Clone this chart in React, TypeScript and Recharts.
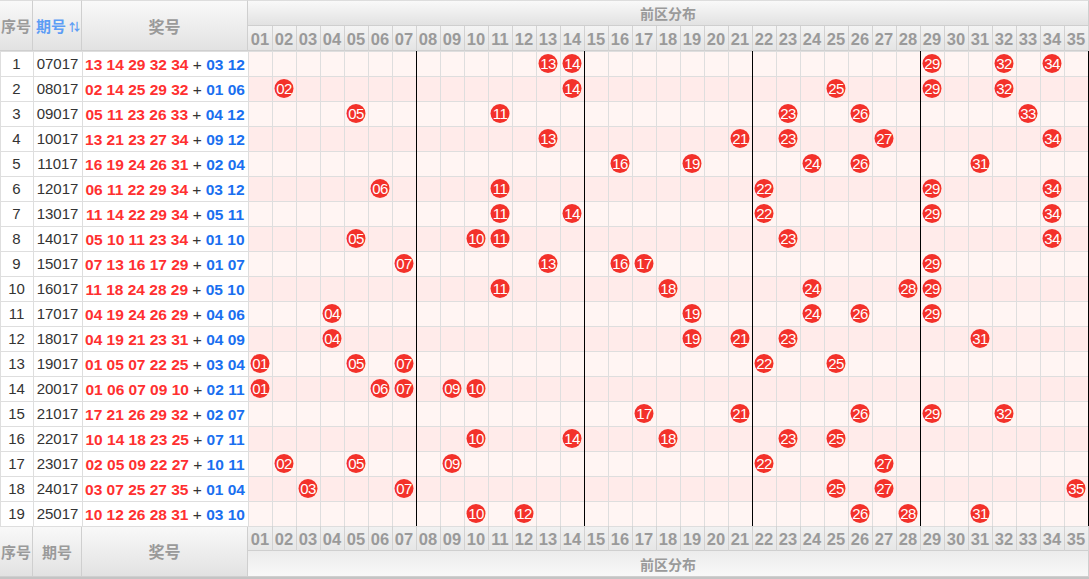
import { ScatterChart, Scatter, XAxis, YAxis, ReferenceArea, ReferenceLine } from 'recharts'

const rowNos = [1, 2, 3, 4, 5, 6, 7, 8, 9, 10, 11, 12, 13, 14, 15, 16, 17, 18, 19]
const periods = ['07017', '08017', '09017', '10017', '11017', '12017', '13017', '14017', '15017', '16017',
  '17017', '18017', '19017', '20017', '21017', '22017', '23017', '24017', '25017']
const frontNums = [
  [13, 14, 29, 32, 34], [2, 14, 25, 29, 32], [5, 11, 23, 26, 33], [13, 21, 23, 27, 34], [16, 19, 24, 26, 31],
  [6, 11, 22, 29, 34], [11, 14, 22, 29, 34], [5, 10, 11, 23, 34], [7, 13, 16, 17, 29], [11, 18, 24, 28, 29],
  [4, 19, 24, 26, 29], [4, 19, 21, 23, 31], [1, 5, 7, 22, 25], [1, 6, 7, 9, 10], [17, 21, 26, 29, 32],
  [10, 14, 18, 23, 25], [2, 5, 9, 22, 27], [3, 7, 25, 27, 35], [10, 12, 26, 28, 31],
]
const backNums = [
  [3, 12], [1, 6], [4, 12], [9, 12], [2, 4], [3, 12], [5, 11], [1, 10], [1, 7], [5, 10],
  [4, 6], [4, 9], [3, 4], [2, 11], [2, 7], [7, 11], [10, 11], [1, 4], [3, 10],
]
const columns = Array.from({ length: 35 }, (_, i) => i + 1)
const sectionEnds = [7, 14, 21, 28, 35]

const pad = (n: number) => String(n).padStart(2, '0')
const points = frontNums.flatMap((nums, r) => nums.map((n) => ({ x: n, y: r + 1 })))

const FONT = "'Liberation Sans', 'Noto Sans CJK SC', sans-serif"
const RED = '#ff3030'
const BLUE = '#1a6ff0'
const HEAD_GRAY = '#9a9a9a'
const GRID = '#dedede'

function RowTick(props: any) {
  const { y, payload } = props
  const i = payload.value - 1
  return (
    <g fontFamily={FONT}>
      <rect x={0} y={y - 12.5} width={33} height={25} fill="#fff" stroke={GRID} shapeRendering="crispEdges" />
      <rect x={33} y={y - 12.5} width={49} height={25} fill="#fff" stroke={GRID} shapeRendering="crispEdges" />
      <rect x={82} y={y - 12.5} width={166} height={25} fill="#fff" stroke={GRID} shapeRendering="crispEdges" />
      <text x={16.5} y={y + 5.5} textAnchor="middle" fontSize={15} fill="#333">{rowNos[i]}</text>
      <text x={57.5} y={y + 5.5} textAnchor="middle" fontSize={15} fill="#333">{periods[i]}</text>
      <text x={165} y={y + 6} textAnchor="middle" fontSize={15.5}>
        <tspan fill={RED} fontWeight="bold">{frontNums[i].map(pad).join(' ')}</tspan>
        <tspan fill="#333"> + </tspan>
        <tspan fill={BLUE} fontWeight="bold">{backNums[i].map(pad).join(' ')}</tspan>
      </text>
    </g>
  )
}

function HeadTick(props: any) {
  const { x, payload, top } = props
  const y0 = top ? 26 : 526
  return (
    <g fontFamily={FONT}>
      <line x1={x + 12} x2={x + 12} y1={y0} y2={y0 + 25} stroke="#d2d2d2" shapeRendering="crispEdges" />
      <text x={x} y={y0 + 18.5} textAnchor="middle" fontSize={16.5} fontWeight="bold" fill={HEAD_GRAY}>
        {pad(payload.value)}
      </text>
    </g>
  )
}

function Ball(props: any) {
  const { cx, cy, payload } = props
  return (
    <g>
      <circle cx={cx} cy={cy} r={9.5} fill="#f3312a" />
      <text x={cx} y={cy + 5} textAnchor="middle" fontSize={15} letterSpacing={-0.6} fill="#fff" fontFamily={FONT}>
        {pad(payload.x)}
      </text>
    </g>
  )
}

const headBg = 'linear-gradient(#f9f9f9, #e2e2e2)'
const cell = (left: number, top: number, width: number, height: number, extra: any = {}) => ({
  position: 'absolute' as const, left, top, width, height, boxSizing: 'border-box' as const,
  background: headBg, borderRight: '1px solid #cfcfcf', borderBottom: '1px solid #cfcfcf',
  display: 'flex', alignItems: 'center', justifyContent: 'center',
  fontFamily: FONT, fontWeight: 'bold', fontSize: 16, color: HEAD_GRAY, ...extra,
})

export default function App() {
  return (
    <div style={{ position: 'relative', width: 1089, height: 579, background: '#fff' }}>
      <style>{'body{margin:0}'}</style>
      <div style={cell(0, 0, 33, 51, { borderTop: '1px solid #ddd', fontSize: 15 })}>序号</div>
      <div style={cell(33, 0, 49, 51, { borderTop: '1px solid #ddd', color: '#5d9df5', fontSize: 15, justifyContent: 'flex-start', paddingLeft: 3, whiteSpace: 'nowrap' })}>
        期号<span style={{ fontSize: 11, marginLeft: 3 }}>⇅</span>
      </div>
      <div style={cell(82, 0, 166, 51, { borderTop: '1px solid #ddd' })}>奖号</div>
      <div style={cell(248, 0, 841, 26, { borderTop: '1px solid #ddd', fontSize: 14 })}>前区分布</div>
      <div style={cell(248, 26, 841, 25, { background: 'linear-gradient(#f4f4f4, #e4e4e4)' })} />
      <div style={cell(0, 526, 33, 51, { fontSize: 15 })}>序号</div>
      <div style={cell(33, 526, 49, 51, { fontSize: 15 })}>期号</div>
      <div style={cell(82, 526, 166, 51)}>奖号</div>
      <div style={cell(248, 526, 841, 25, { background: 'linear-gradient(#f2f2f2, #e6e6e6)' })} />
      <div style={cell(248, 551, 841, 26, { background: 'linear-gradient(#ececec, #f8f8f8)', fontSize: 14 })}>前区分布</div>
      <div style={{ position: 'absolute', left: 0, top: 577, width: 1089, height: 2, background: '#c4c4c4' }} />
      <div style={{ position: 'absolute', left: 0, top: 0 }}>
        <ScatterChart width={1089} height={579} margin={{ top: 0, right: 1, bottom: 2, left: 0 }}>
          <XAxis xAxisId="top" orientation="top" type="number" dataKey="x" domain={[0.5, 35.5]} ticks={columns}
            interval={0} height={51} axisLine={false} tickLine={false} tick={(p: any) => <HeadTick {...p} top />} />
          <XAxis xAxisId="bottom" orientation="bottom" type="number" dataKey="x" domain={[0.5, 35.5]} ticks={columns}
            interval={0} height={51} axisLine={false} tickLine={false} tick={(p: any) => <HeadTick {...p} />} />
          <YAxis type="number" dataKey="y" domain={[0.5, 19.5]} ticks={rowNos} reversed interval={0} width={248}
            axisLine={false} tickLine={false} tick={(p: any) => <RowTick {...p} />} />
          {rowNos.map((r) => (
            <ReferenceArea key={'a' + r} xAxisId="top" x1={0.5} x2={35.5} y1={r - 0.5} y2={r + 0.5}
              fill={r % 2 ? '#fff5f3' : '#ffebea'} fillOpacity={1} stroke="none" />
          ))}
          {[0, ...rowNos].map((r) => (
            <ReferenceLine key={'h' + r} xAxisId="top" y={r + 0.5} stroke={GRID} shapeRendering="crispEdges" />
          ))}
          {columns.filter((c) => !sectionEnds.includes(c)).map((c) => (
            <ReferenceLine key={'v' + c} xAxisId="top" x={c + 0.5} stroke={GRID} shapeRendering="crispEdges" />
          ))}
          {[0, ...sectionEnds].map((c) => (
            <ReferenceLine key={'s' + c} xAxisId="top" x={c + 0.5} stroke="#000" shapeRendering="crispEdges" />
          ))}
          <Scatter xAxisId="bottom" data={points} shape={() => null} isAnimationActive={false} />
          <Scatter xAxisId="top" data={points} shape={(p: any) => <Ball {...p} />} isAnimationActive={false} />
        </ScatterChart>
      </div>
    </div>
  )
}
